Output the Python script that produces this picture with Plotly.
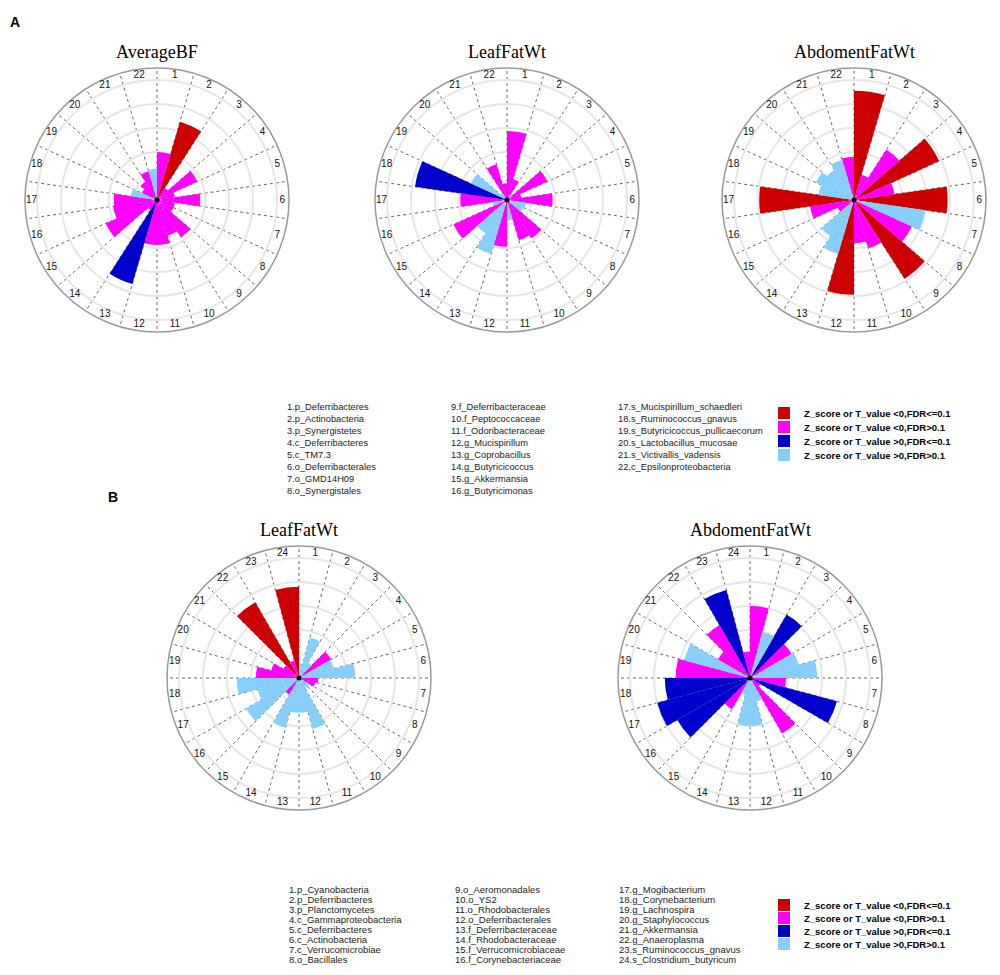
import plotly.graph_objects as go

W, H = 1000, 975

# ---------------- data ----------------
CAT_CODES = ["R", "M", "B", "L"]
CAT_NAMES = [
    "Z_score or T_value <0,FDR<=0.1",
    "Z_score or T_value <0,FDR>0.1",
    "Z_score or T_value >0,FDR<=0.1",
    "Z_score or T_value >0,FDR>0.1",
]
CAT_COLORS = ["#CC0000", "#FF00FF", "#0000CC", "#87CEFA"]

# Panel A (22 taxa)
a_averagebf_r = [0.40, 0.68, 0.12, 0.37, 0.15, 0.36, 0.15, 0.15, 0.37, 0.31, 0.375,
                 0.375, 0.73, 0.10, 0.47, 0.37, 0.36, 0.22, 0.14, 0.18, 0.25, 0.26]
a_averagebf_c = ["M", "R", "M", "M", "M", "M", "M", "M", "M", "M", "M",
                 "M", "B", "M", "M", "M", "M", "L", "M", "M", "M", "L"]

a_leaffatwt_r = [0.575, 0.18, 0.06, 0.37, 0.12, 0.38, 0.16, 0.15, 0.38, 0.35, 0.17,
                 0.39, 0.47, 0.33, 0.49, 0.12, 0.39, 0.775, 0.33, 0.06, 0.31, 0.14]
a_leaffatwt_c = ["M", "M", "L", "M", "M", "M", "L", "L", "M", "M", "L",
                 "M", "L", "L", "M", "L", "M", "B", "L", "L", "M", "M"]

a_abdomentfatwt_r = [0.91, 0.22, 0.50, 0.78, 0.34, 0.78, 0.60, 0.53, 0.78, 0.42, 0.36,
                     0.79, 0.47, 0.36, 0.15, 0.37, 0.79, 0.30, 0.35, 0.30, 0.35, 0.36]
a_abdomentfatwt_c = ["R", "M", "M", "R", "M", "R", "L", "M", "R", "M", "M",
                     "R", "L", "L", "M", "M", "R", "L", "L", "L", "L", "M"]

# Panel B (24 taxa)
b_leaffatwt_r = [0.12, 0.35, 0.15, 0.31, 0.30, 0.47, 0.16, 0.14, 0.10, 0.10, 0.44, 0.29,
                 0.29, 0.43, 0.16, 0.51, 0.36, 0.52, 0.36, 0.24, 0.15, 0.73, 0.15, 0.76]
b_leaffatwt_c = ["L", "L", "L", "M", "L", "L", "M", "M", "L", "L", "L", "L",
                 "L", "L", "M", "L", "L", "L", "M", "M", "M", "R", "M", "R"]

b_abdomentfatwt_r = [0.60, 0.40, 0.61, 0.40, 0.42, 0.56, 0.30, 0.75, 0.10, 0.535, 0.20, 0.40,
                     0.40, 0.15, 0.30, 0.70, 0.80, 0.71, 0.62, 0.57, 0.31, 0.51, 0.76, 0.22]
b_abdomentfatwt_c = ["M", "L", "B", "M", "L", "L", "M", "B", "M", "M", "L", "L",
                     "L", "L", "M", "B", "B", "B", "M", "L", "M", "M", "B", "M"]

A_TITLES = ["AverageBF", "LeafFatWt", "AbdomentFatWt"]
B_TITLES = ["LeafFatWt", "AbdomentFatWt"]

A_TAXA = [
    "1.p_Deferribacteres", "2.p_Actinobacteria", "3.p_Synergistetes", "4.c_Deferribacteres",
    "5.c_TM7.3", "6.o_Deferribacterales", "7.o_GMD14H09", "8.o_Synergistales",
    "9.f_Deferribacteraceae", "10.f_Peptococcaceae", "11.f_Odoribacteraceae", "12.g_Mucispirillum",
    "13.g_Coprobacillus", "14.g_Butyricicoccus", "15.g_Akkermansia", "16.g_Butyricimonas",
    "17.s_Mucispirillum_schaedleri", "18.s_Ruminococcus_gnavus", "19.s_Butyricicoccus_pullicaecorum",
    "20.s_Lactobacillus_mucosae", "21.s_Victivallis_vadensis", "22.c_Epsilonproteobacteria",
]
B_TAXA = [
    "1.p_Cyanobacteria", "2.p_Deferribacteres", "3.p_Planctomycetes", "4.c_Gammaproteobacteria",
    "5.c_Deferribacteres", "6.c_Actinobacteria", "7.c_Verrucomicrobiae", "8.o_Bacillales",
    "9.o_Aeromonadales", "10.o_YS2", "11.o_Rhodobacterales", "12.o_Deferribacterales",
    "13.f_Deferribacteraceae", "14.f_Rhodobacteraceae", "15.f_Verrucomicrobiaceae", "16.f_Corynebacteriaceae",
    "17.g_Mogibacterium", "18.g_Corynebacterium", "19.g_Lachnospira", "20.g_Staphylococcus",
    "21.g_Akkermansia", "22.g_Anaeroplasma", "23.s_Ruminococcus_gnavus", "24.s_Clostridium_butyricum",
]

RING_VALS = [0.2, 0.4, 0.6, 0.8, 1.0]
R_MAX = 1.1
LABEL_R = 1.045

# ---------------- figure ----------------
fig = go.Figure()
layout_extra = {}
annotations = []

FONT_SANS = "Arial, Liberation Sans, sans-serif"
FONT_SERIF = "Times New Roman, Liberation Serif, serif"


def px_x(x):
    return x / W


def px_y(y):
    return 1 - y / H


def add_chart(idx, title, values, cats, cx, cy, R, title_y, legend_base, shown):
    n = len(values)
    step = 360.0 / n
    centers = [(i + 0.5) * step for i in range(n)]
    pid = "polar" if idx == 1 else f"polar{idx}"
    for k, code in enumerate(CAT_CODES):
        th = [t for t, c in zip(centers, cats) if c == code]
        rr = [v for v, c in zip(values, cats) if c == code]
        if not rr:
            continue
        key = (legend_base, k)
        show = key not in shown
        shown.add(key)
        lg = "legend" if legend_base + k == 0 else f"legend{legend_base + k + 1}"
        fig.add_trace(go.Barpolar(
            r=rr, theta=th, width=[step] * len(rr),
            marker=dict(color=CAT_COLORS[k], line=dict(width=0)),
            name=CAT_NAMES[k], subplot=pid, showlegend=show, legend=lg,
            legendgroup=f"g{legend_base}_{k}",
        ))
    fig.add_trace(go.Scatterpolar(
        r=[LABEL_R] * n, theta=centers, mode="text",
        text=[str(i + 1) for i in range(n)],
        textfont=dict(size=10, family=FONT_SANS, color="#111111"),
        subplot=pid, showlegend=False, hoverinfo="skip",
    ))
    fig.add_trace(go.Scatterpolar(
        r=[0], theta=[0], mode="markers", marker=dict(size=5, color="black"),
        subplot=pid, showlegend=False, hoverinfo="skip",
    ))
    layout_extra[pid] = dict(
        domain=dict(x=[px_x(cx - R), px_x(cx + R)], y=[px_y(cy + R), px_y(cy - R)]),
        bgcolor="white",
        barmode="overlay",
        bargap=0,
        radialaxis=dict(range=[0, R_MAX], tickmode="array", tickvals=RING_VALS,
                        showticklabels=False, ticks="", showline=False,
                        gridcolor="#e6e6e6", gridwidth=1.5, layer="below traces"),
        angularaxis=dict(rotation=90, direction="clockwise", tickmode="array",
                         tickvals=[i * step for i in range(n)], showticklabels=False,
                         ticks="", gridcolor="#666666", griddash="dot", gridwidth=1,
                         showline=True, linecolor="#999999", linewidth=1.5,
                         layer="below traces"),
    )
    annotations.append(dict(
        x=px_x(cx), y=px_y(title_y), xref="paper", yref="paper", text=title,
        showarrow=False, xanchor="center", yanchor="middle",
        font=dict(family=FONT_SERIF, size=18, color="black"),
    ))


shownA, shownB = set(), set()
add_chart(1, A_TITLES[0], a_averagebf_r, a_averagebf_c, 157, 200, 132, 52, 0, shownA)
add_chart(2, A_TITLES[1], a_leaffatwt_r, a_leaffatwt_c, 507, 200, 132, 52, 0, shownA)
add_chart(3, A_TITLES[2], a_abdomentfatwt_r, a_abdomentfatwt_c, 854, 200, 132, 52, 0, shownA)
add_chart(4, B_TITLES[0], b_leaffatwt_r, b_leaffatwt_c, 299, 678, 132, 530, 4, shownB)
add_chart(5, B_TITLES[1], b_abdomentfatwt_r, b_abdomentfatwt_c, 750, 678, 132, 530, 4, shownB)

# legends: one entry per legend so spacing matches the original
legend_rows_A = [413, 427, 441, 455]
legend_rows_B = [905, 918, 931, 944]
for base, rows in ((0, legend_rows_A), (4, legend_rows_B)):
    for k, yy in enumerate(rows):
        name = "legend" if base + k == 0 else f"legend{base + k + 1}"
        layout_extra[name] = dict(
            x=px_x(764), y=px_y(yy), xanchor="left", yanchor="middle",
            bgcolor="rgba(0,0,0,0)", borderwidth=0,
            font=dict(family=FONT_SANS, size=9.5, color="black", weight="bold"),
            itemclick=False, itemdoubleclick=False,
        )

# taxa lists
def add_list(items, xs, y0, dy, size):
    for i, txt in enumerate(items):
        col, row = divmod(i, 8)
        annotations.append(dict(
            x=px_x(xs[col]), y=px_y(y0 + row * dy), xref="paper", yref="paper",
            text=txt, showarrow=False, xanchor="left", yanchor="middle",
            font=dict(family=FONT_SANS, size=size, color="#222222"),
        ))


add_list(A_TAXA, [285, 449, 616], 407, 12, 9.3)
add_list(B_TAXA, [287, 453, 617], 889, 10.1, 9.5)

# panel letters
annotations.append(dict(x=px_x(15), y=px_y(22), xref="paper", yref="paper", text="<b>A</b>",
                        showarrow=False, xanchor="center", yanchor="middle",
                        font=dict(family=FONT_SANS, size=14, color="black")))
annotations.append(dict(x=px_x(113), y=px_y(497), xref="paper", yref="paper", text="<b>B</b>",
                        showarrow=False, xanchor="center", yanchor="middle",
                        font=dict(family=FONT_SANS, size=14, color="black")))

fig.update_layout(
    width=W, height=H, margin=dict(l=0, r=0, t=0, b=0),
    paper_bgcolor="white", plot_bgcolor="white",
    annotations=annotations,
    **layout_extra,
)

fig.write_html("out.html", config={"displayModeBar": False},
               post_script="document.body.style.margin='0';")
